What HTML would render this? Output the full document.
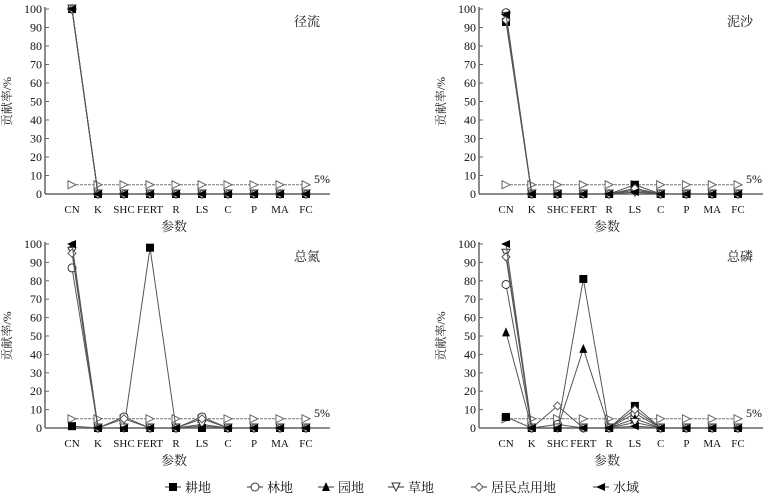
<!DOCTYPE html>
<html><head><meta charset="utf-8"><style>
html,body{margin:0;padding:0;background:#fff;}
svg{display:block;font-family:"Liberation Serif","Noto Serif CJK SC",serif;}
</style></head><body>
<svg id="c" width="772" height="497" viewBox="0 0 772 497" xmlns="http://www.w3.org/2000/svg"></svg>
<script>
const categories=["CN","K","SHC","FERT","R","LS","C","P","MA","FC"];
const yTicks=[0,10,20,30,40,50,60,70,80,90,100];
const seriesNames=["耕地","林地","园地","草地","居民点用地","水域"];
const threshold=5;
const panelTitles=["径流","泥沙","总氮","总磷"];
const runoff=[
[100,0,0,0,0,0,0,0,0,0],
[100,0,0,0,0,0,0,0,0,0],
[100,0,0,0,0,0,0,0,0,0],
[100,0,0,0,0,0,0,0,0,0],
[100,0,0,0,0,0,0,0,0,0],
[100,0,0,0,0,0,0,0,0,0]];
const sediment=[
[93,0,0,0,0,5,0,0,0,0],
[98,0,0,0,0,2,0,0,0,0],
[95,0,0,0,0,3,0,0,0,0],
[96,0,0,0,0,1,0,0,0,0],
[94,0,0,0,0,3,0,0,0,0],
[97,0,0,0,0,1,0,0,0,0]];
const nitrogen=[
[1,0,0,98,0,0,0,0,0,0],
[87,0,6,0,0,6,0,0,0,0],
[99,0,0,0,0,1,0,0,0,0],
[96,0,0,0,0,2,0,0,0,0],
[95,0,5,0,0,5,0,0,0,0],
[100,0,0,0,0,0,0,0,0,0]];
const phosphorus=[
[6,0,0,81,0,12,0,0,0,0],
[78,0,2,0,0,8,0,0,0,0],
[52,0,0,43,0,5,0,0,0,0],
[95,0,0,0,0,3,0,0,0,0],
[93,0,12,0,0,10,0,0,0,0],
[100,0,0,0,0,1,0,0,0,0]];
const panelData=[runoff,sediment,nitrogen,phosphorus];

const svg=document.getElementById('c');const NS="http://www.w3.org/2000/svg";
function mk(t,a,p){const e=document.createElementNS(NS,t);for(const k in a)e.setAttribute(k,a[k]);(p||svg).appendChild(e);return e;}
const panels=[{ax:45,x0:72,x1:306,yt:9,yb:194,right:330},{ax:479,x0:506,x1:738,yt:9,yb:194,right:763},
{ax:45,x0:72,x1:306,yt:244,yb:428,right:330},{ax:479,x0:506,x1:738,yt:244,yb:428,right:763}];
function marker(g,type,x,y){
 const s=4;
 if(type==0){mk('rect',{x:x-s,y:y-s,width:2*s,height:2*s,fill:'#000'},g);}
 else if(type==1){mk('circle',{cx:x,cy:y,r:s,fill:'#fff',stroke:'#333','stroke-width':1},g);}
 else if(type==2){mk('polygon',{points:`${x},${y-s-1} ${x-s},${y+s} ${x+s},${y+s}`,fill:'#000'},g);}
 else if(type==3){mk('polygon',{points:`${x-s},${y-s} ${x+s},${y-s} ${x},${y+s}`,fill:'#fff',stroke:'#333'},g);}
 else if(type==4){mk('polygon',{points:`${x},${y-s} ${x+s},${y} ${x},${y+s} ${x-s},${y}`,fill:'#fff',stroke:'#555'},g);}
 else {mk('polygon',{points:`${x-s-1},${y} ${x+s},${y-s} ${x+s},${y+s}`,fill:'#000'},g);}
}
panels.forEach((p,pi)=>{
 const g=mk('g',{});
 
 
 const xs=i=>p.x0+(p.x1-p.x0)*i/(categories.length-1);
 const ys=v=>p.yb-(p.yb-p.yt)*v/100;
 const ax=mk('line',{x1:p.ax,y1:p.yt-2,x2:p.ax,y2:p.yb,stroke:'#666','stroke-width':1.5},g);
 
 const xa=mk('line',{x1:p.ax,y1:p.yb,x2:p.right,y2:p.yb,stroke:'#666','stroke-width':1.5},g);
 
 yTicks.forEach(t=>{const y=ys(t);mk('line',{x1:p.ax,y1:y,x2:p.ax+4,y2:y,stroke:'#666'},g);
  const tx=mk('text',{x:p.ax-3,y:y+4,'text-anchor':'end','font-size':12,fill:'#111'},g);tx.textContent=t;
  });
 categories.forEach((c,i)=>{const x=xs(i);
  const tx=mk('text',{x:x,y:p.yb+19,'text-anchor':'middle','font-size':11,fill:'#111'},g);tx.textContent=c;
  });
 const yl=mk('text',{x:0,y:0,transform:`translate(${p.ax-34},${(p.yt+p.yb)/2}) rotate(-90)`,'text-anchor':'middle','font-size':12,fill:'#222'},g);
 yl.textContent='贡献率/%';
 const xl=mk('text',{x:(p.x0+p.x1)/2-15,y:p.yb+37,'text-anchor':'middle','font-size':13,fill:'#222'},g);
 xl.textContent='参数';
 const tt=mk('text',{x:p.right-10,y:p.yt+17,'text-anchor':'end','font-size':13,fill:'#111'},g);
 tt.textContent=panelTitles[pi];
 const ty=ys(threshold);
 const th=mk('line',{x1:p.x0,y1:ty,x2:p.x1,y2:ty,stroke:'#777','stroke-dasharray':'3,1'},g);
 
 categories.forEach((c,i)=>{const x=xs(i);mk('polygon',{points:`${x-4},${ty-4} ${x+4},${ty} ${x-4},${ty+4}`,fill:'#fff',stroke:'#666'},g);});
 const tl=mk('text',{x:p.x1+8,y:ty-2,'font-size':12,fill:'#111'},g);tl.textContent='5%';
 
 panelData[pi].forEach((vals,si)=>{
  const sg=mk('g',{},g);
  
  
  mk('polyline',{points:vals.map((v,i)=>xs(i)+','+ys(v)).join(' '),fill:'none',stroke:'#555','stroke-width':1},sg);
  vals.forEach((v,i)=>marker(sg,si,xs(i),ys(v)));
 });
});
const lg=mk('g',{});


const lx=[165,247,318,388,471,593];
seriesNames.forEach((n,i)=>{
 const eg=mk('g',{},lg);
 
 
 mk('line',{x1:lx[i],y1:487,x2:lx[i]+16,y2:487,stroke:'#333'},eg);
 marker(eg,i,lx[i]+8,487);
 const t=mk('text',{x:lx[i]+20,y:492,'font-size':13,fill:'#111'},eg);t.textContent=n;
});
</script>
</body></html>
